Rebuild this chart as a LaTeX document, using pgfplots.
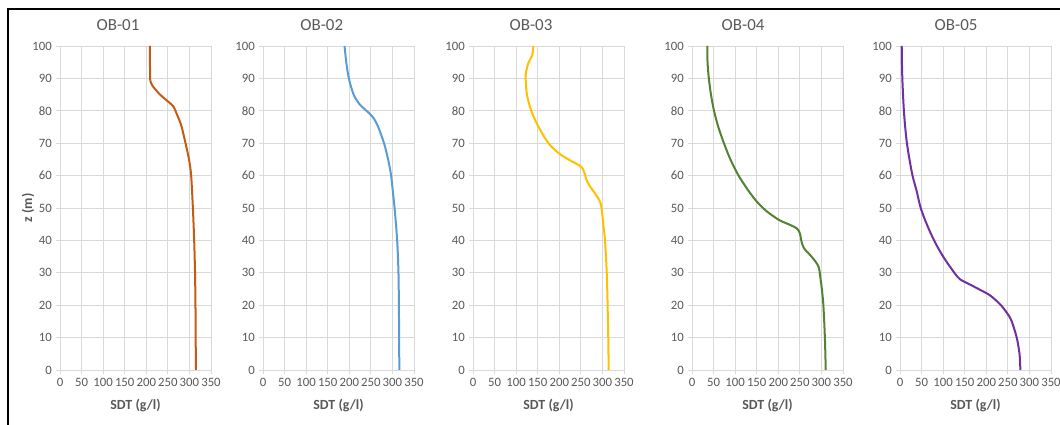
\documentclass[border=0pt]{standalone}
\usepackage{fontspec}
\setmainfont{Carlito}
\usepackage{pgfplots}
\pgfplotsset{compat=1.18}
\definecolor{gridc}{HTML}{D9D9D9}
\definecolor{labc}{HTML}{595959}
\definecolor{c1}{HTML}{C55A11}
\definecolor{c2}{HTML}{5B9BD5}
\definecolor{c3}{HTML}{FFC000}
\definecolor{c4}{HTML}{548235}
\definecolor{c5}{HTML}{7030A0}
\pgfplotsset{
  panel/.style={
    scale only axis, width=151bp, height=324bp,
    anchor=south west,
    xmin=0, xmax=350, ymin=0, ymax=100,
    xtick={0,50,...,350}, ytick={0,10,...,100},
    axis lines=left, axis line style={-, draw=gridc, line width=0.8bp},
    grid=major, grid style={draw=gridc, line width=0.8bp},
    tick style={draw=gridc, line width=0.8bp},
    tick align=outside, major tick length=4bp,
    tick label style={font=\fontsize{12.8}{14}\selectfont, text=labc},
    xticklabel style={inner sep=1bp, yshift=-3bp},
    yticklabel style={inner sep=1bp, xshift=-3bp},
    /pgf/number format/assume math mode=true,
    xlabel={\textbf{SDT (g/l)}},
    xlabel style={at={(axis description cs:0.5,0)}, anchor=center, yshift=-36bp,
      font=\fontsize{14}{16}\selectfont, text=labc},
    title style={anchor=center, yshift=15bp, font=\fontsize{17}{19}\selectfont, text=labc},
    every axis plot/.append style={line width=2bp, smooth, tension=0.5, no markers},
  }
}
\begin{document}
\begin{tikzpicture}
\useasboundingbox (0,0) rectangle (1060bp,425bp);
\draw[line width=2bp] (8bp,0) -- (8bp,416bp) -- (1060bp,416bp);

\begin{axis}[panel, at={(60bp,55bp)}, title={OB-01},
  title style={at={(axis description cs:0.384,1)}},
  ylabel={\textbf{z (m)}},
  ylabel style={at={(axis description cs:-0.212,0.5)}, anchor=center,
      font=\fontsize{14}{16}\selectfont, text=labc}]
\addplot[c1] coordinates {(315,0)(314.5,10)(314,20)(313,30)(311,40)(308,50)(304,60)(299,65)(291,70)(282,75)(277,77)(270,79.2)(263,81.3)(251,82.8)(232,85)(215,87.6)(210,89)(209,90)(208.5,95)(208.5,100)};
\end{axis}

\begin{axis}[panel, at={(263bp,55bp)}, title={OB-02},
  title style={at={(axis description cs:0.389,1)}}]
\addplot[c2] coordinates {(316,0)(315.5,10)(315,20)(314,30)(311,40)(305,50)(301,55)(297,60)(290,65)(280.5,70)(267,75)(255,78)(240,80)(224,82)(210,85)(199,90)(193,95)(189,100)};
\end{axis}

\begin{axis}[panel, at={(473bp,55bp)}, title={OB-03},
  title style={at={(axis description cs:0.384,1)}}]
\addplot[c3] coordinates {(314.5,0)(313.5,10)(312,20)(310,30)(306,40)(302,45)(298,50)(293,52.4)(280,55)(266,57.8)(261,59.6)(256,61.7)(248,63)(221,65)(198,67)(175,70)(152,75)(135,80)(125,85)(122,90)(123,92)(129,95)(137,97)(140,100)};
\end{axis}

\begin{axis}[panel, at={(692bp,55bp)}, title={OB-04},
  title style={at={(axis description cs:0.338,1)}}]
\addplot[c4] coordinates {(310,0)(308,10)(304.5,20)(301,25)(298,28)(293,32)(277,35)(260,37.5)(254,39.6)(250,42.2)(243,43.7)(227,44.8)(202,46.3)(173,49)(150,52)(130,55.5)(108,60)(89,65)(74,70)(61,75)(51,80)(44,85)(39,90)(36,95)(35.5,100)};
\end{axis}

\begin{axis}[panel, at={(900bp,55bp)}, title={OB-05},
  title style={at={(axis description cs:0.371,1)}}]
\addplot[c5] coordinates {(279,0)(277,5)(270.5,10)(259,15)(251,17)(234,20)(209,23)(182,25)(153,27)(139,28)(126,30)(100,35)(79,40)(62,45)(48,50)(39,55)(29,60)(22,65)(16,70)(12,75)(9,80)(7,85)(5.4,90)(4.5,95)(4,100)};
\end{axis}
\end{tikzpicture}
\end{document}
